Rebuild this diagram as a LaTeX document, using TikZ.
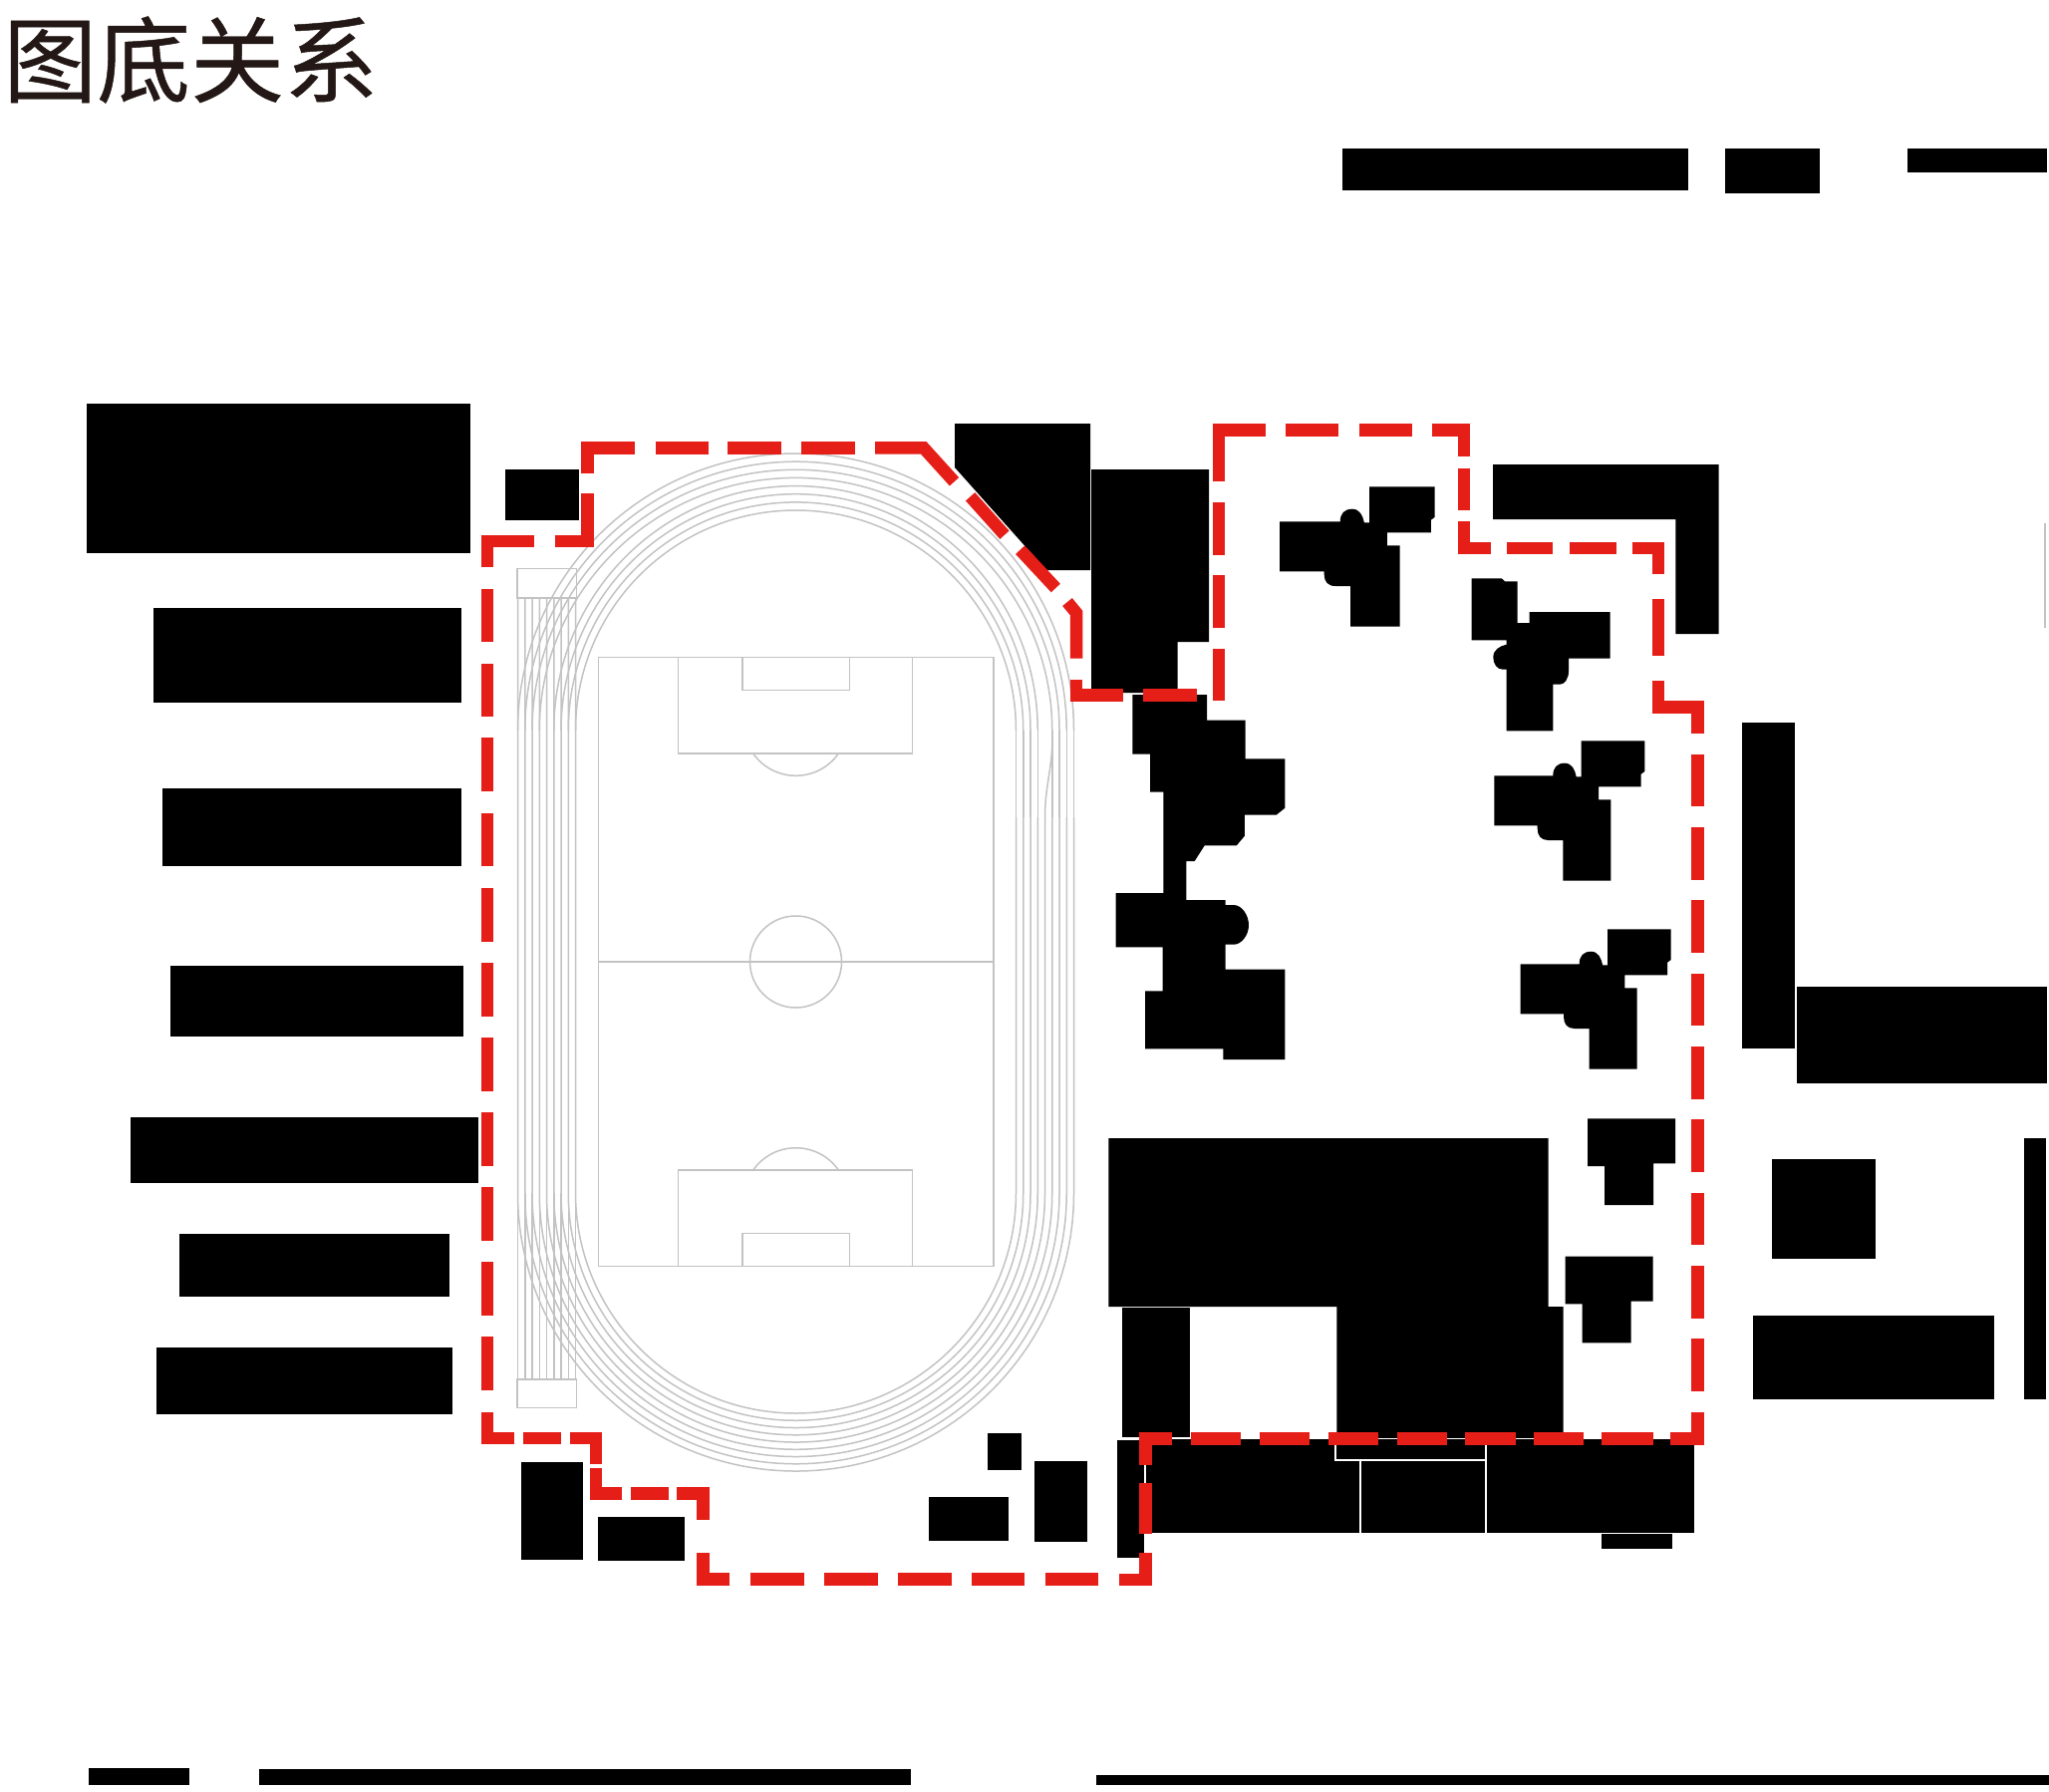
\documentclass[tikz,border=0pt]{standalone}
\usepackage{fontspec}
\newfontfamily\cjk[FakeBold=0.5]{Noto Sans CJK SC}
\definecolor{redline}{RGB}{230,30,24}
\definecolor{trackgray}{RGB}{195,195,195}
\definecolor{titleink}{RGB}{35,24,21}
\tikzset{
  bldg/.style={fill=black,draw=none},
  reddash/.style={draw=redline,line width=12.5pt,line cap=butt,line join=miter,miter limit=10},
  trackline/.style={draw=trackgray,line width=1.5pt},
  whitegap/.style={draw=white,line width=1.3pt},
}
\newcommand{\wingshape}[3]{%
  \fill[bldg,shift={(#1,#2)},xscale=#3]
    (0,0) -- (59,0) .. controls (59,-8) and (63,-12.6) .. (70.7,-12.6)
    .. controls (78,-12.6) and (81,-6) .. (82.4,1) -- (87.4,1) -- (87.4,-35) -- (151,-35)
    -- (151,-4.3) -- (147.4,-1.6) -- (147.4,11) -- (104.7,11) -- (104.7,24) -- (117,24)
    -- (117,105.4) -- (69,105.4) -- (69,64.7) -- (54,64.7)
    .. controls (47,64.7) and (43.4,60) .. (43.4,53.4) -- (43.4,50) -- (0,50) -- cycle;}
\newcommand{\teeshape}[2]{%
  \fill[bldg,shift={(#1,#2)}]
    (0,0) -- (88,0) -- (88,45) -- (66,45) -- (66,86.6) -- (17,86.6) -- (17,47.6) -- (0,47.6) -- cycle;}
\begin{document}
\begin{tikzpicture}[x=1pt,y=-1pt]
\useasboundingbox (0,0) rectangle (2056,1797);
\fill[white] (0,0) rectangle (2056,1797);
\node[anchor=west,inner sep=0pt,text=titleink] (title) at (3,60) {\cjk\fontsize{94}{94}\selectfont 图底关系};

% top and bottom bars
\fill[bldg] (1347,149) rectangle (1694,191);
\fill[bldg] (1731,149) rectangle (1826,194);
\fill[bldg] (1914,149) rectangle (2054,173);
\fill[bldg] (89,1774) rectangle (190,1791);
\fill[bldg] (260,1775) rectangle (914,1791);
\fill[bldg] (1100,1781) rectangle (2056,1791);

% left column
\fill[bldg] (87,405) rectangle (472,555);
\fill[bldg] (153.5,610) rectangle (463,705);
\fill[bldg] (163,791) rectangle (463,869);
\fill[bldg] (171,969) rectangle (465,1040);
\fill[bldg] (131,1121) rectangle (480,1187);
\fill[bldg] (180,1238) rectangle (451,1301);
\fill[bldg] (156.5,1352) rectangle (454,1419);
\fill[bldg] (507,471) rectangle (581,522);

% north blocks
\fill[bldg] (958,425) -- (1094,425) -- (1094,572) -- (1050,572) -- (958,469) -- cycle;
\fill[bldg] (1095,471) -- (1213,471) -- (1213,644) -- (1181.5,644) -- (1181.5,695) -- (1095,695) -- cycle;

% west complex
\fill[bldg] (1136.4,697) -- (1211,697) -- (1211,722.7) -- (1249.6,722.7) -- (1249.6,761.3)
  -- (1289.4,761.3) -- (1289.4,810.7) -- (1280.6,817.7) -- (1248.9,817.7) -- (1248.9,838.7)
  -- (1240.8,848.3) -- (1208.7,848.3) -- (1198.7,864) -- (1190.3,864) -- (1190.3,903)
  -- (1229.7,903) -- (1229.7,908) -- (1237.8,908)
  .. controls (1246,908) and (1253,918) .. (1253,928.3)
  .. controls (1253,938) and (1246,947.7) .. (1237.8,947.7)
  -- (1229.7,947.7) -- (1229.7,972.7) -- (1289.4,972.7) -- (1289.4,1063) -- (1227.4,1063)
  -- (1227.4,1052.3) -- (1149,1052.3) -- (1149,994.3) -- (1166.6,994.3) -- (1166.6,950.3)
  -- (1119.5,950.3) -- (1119.5,896) -- (1167.4,896) -- (1167.4,794.7) -- (1154,794.7)
  -- (1154,756.7) -- (1136.4,756.7) -- cycle;

% wing shapes
\wingshape{1284}{523.3}{1.03}
\wingshape{1499.3}{778.3}{1}
\wingshape{1525.7}{967.3}{1}
\fill[bldg] (1476.7,580.3) -- (1506.7,580.3) -- (1510,583.3) -- (1522.7,583.3) -- (1522.7,625)
  -- (1534.7,625) -- (1534.7,614) -- (1615.7,614) -- (1615.7,660.7) -- (1574,660.7) -- (1574,673.3)
  .. controls (1574,681) and (1570,686.7) .. (1565,686.7) -- (1558.3,686.7) -- (1558.3,733.3)
  -- (1511.7,733.3) -- (1511.7,671.7) -- (1508,671.7)
  .. controls (1502,671.7) and (1498.3,666) .. (1498.3,659.3)
  .. controls (1498.3,652) and (1505,648) .. (1511.7,646.7)
  -- (1511.7,642.3) -- (1476.7,642.3) -- cycle;

% L block and east side
\fill[bldg] (1498,466) -- (1724.7,466) -- (1724.7,636) -- (1681.3,636) -- (1681.3,521) -- (1498,521) -- cycle;
\fill[bldg] (1748,725) rectangle (1800.5,1052);
\fill[bldg] (1803,990) rectangle (2054,1087);
\fill[bldg] (1778,1163) rectangle (1882,1263);
\fill[bldg] (2031,1142) rectangle (2053,1404);
\fill[bldg] (1758.5,1320) rectangle (2001,1404);
\draw[trackline] (2052,525) -- (2052,630);

% tee shapes
\teeshape{1593}{1122.4}
\teeshape{1570.7}{1260.7}

% school blocks
\fill[bldg] (1112.4,1142) -- (1553.5,1142) -- (1553.5,1311) -- (1568.6,1311) -- (1568.6,1443)
  -- (1341.4,1443) -- (1341.4,1311) -- (1112.4,1311) -- cycle;
\fill[bldg] (1125.9,1312) rectangle (1194,1441.7);
\fill[bldg] (1120.8,1444.7) rectangle (1148,1562.7);
\fill[bldg] (1150,1444) rectangle (1699.5,1537.7);
\draw[whitegap] (1365,1465) -- (1365,1537.7);
\draw[whitegap] (1491,1446) -- (1491,1537.7);
\draw[whitegap] (1340,1444) -- (1340,1465) -- (1491,1465);
\draw[whitegap] (1120,1443.3) -- (1700,1443.3);
\fill[bldg] (1607,1539) rectangle (1678,1554.3);

% south-west small blocks
\fill[bldg] (523,1466.7) rectangle (585,1564.7);
\fill[bldg] (599.8,1522.3) rectangle (686.8,1566);
\fill[bldg] (990.5,1438) rectangle (1025.3,1475.3);
\fill[bldg] (932,1502) rectangle (1011.8,1546);
\fill[bldg] (1037.5,1465.7) rectangle (1091.3,1547.3);

% running track: nine lanes on the straights and the south bend
\foreach \i in {0,...,8}{
  \pgfmathsetmacro\rr{221+7.25*\i}
  \draw[trackline] ({798.5-\rr},600) -- ({798.5-\rr},1197) arc[start angle=180,end angle=360,radius=\rr pt]
     -- ({798.5+\rr},820);
  \draw[trackline] ({798.5-\rr},1197) -- ({798.5-\rr},1384);
}
% east straight into the north bend, where the lanes are eight
\foreach \xr in {221,228.25,235.5,242.75,257.25,264.5,271.75,279}{
  \draw[trackline] ({798.5+\xr},820) -- ({798.5+\xr},733);
}
\draw[trackline] (1048.5,820) .. controls (1048.5,790) and (1055.75,770) .. (1055.75,745);
% north bend
\foreach \xr/\yr in {221/221,228.25/229.1,235.5/237.3,242.75/245.4,257.25/253.6,264.5/261.7,271.75/269.8,279/278}{
  \draw[trackline] ({798.5-\xr},733) arc[start angle=180,end angle=0,x radius=\xr pt,y radius=\yr pt];
}
\draw[trackline] (519,570.7) rectangle (578.5,600);
\draw[trackline] (519,1384) rectangle (578.5,1412.3);

% football field
\draw[trackline] (600.4,659.3) rectangle (996.8,1270.7);
\draw[trackline] (600.4,965) -- (996.8,965);
\draw[trackline] (798.5,965) circle[radius=46pt];
\draw[trackline] (680.7,659.3) rectangle (915.5,756);
\draw[trackline] (745,659.3) rectangle (852.6,692.3);
\draw[trackline] (755.7,756) .. controls (776.7,785.7) and (820.4,785.7) .. (841.4,756);
\draw[trackline] (680.7,1174) rectangle (915.5,1270.7);
\draw[trackline] (745,1237.7) rectangle (852.6,1270.7);
\draw[trackline] (755.7,1174) .. controls (776.7,1144.3) and (820.4,1144.3) .. (841.4,1174);

% red dashed boundary
\draw[reddash] (489,569.3) -- (489,543) -- (536,543);
\draw[reddash] (557,543) -- (589.6,543) -- (589.6,495);
\draw[reddash] (589.6,475) -- (589.6,449.3) -- (636.5,449.3);
\foreach \a/\b in {657.5/711,730/784,804/857.5}{\draw[reddash] (\a,449.3) -- (\b,449.3);}
\draw[reddash] (878,449.3) -- (926.7,449.3) -- (957.5,483.3);
\draw[reddash] (973.6,498.3) -- (1008,536.7);
\draw[reddash] (1023.6,551.7) -- (1059.3,590);
\draw[reddash] (1071,604) -- (1080,615) -- (1080,660.7);
\draw[reddash] (1080,681.7) -- (1080,697.7) -- (1127,697.7);
\draw[reddash] (1147,697.7) -- (1200.6,697.7);
\foreach \a/\b in {703.3/651,630/577.3,556.7/504}{\draw[reddash] (1223,\a) -- (1223,\b);}
\draw[reddash] (1223,483.3) -- (1223,431.7) -- (1270,431.7);
\foreach \a/\b in {1290/1343.3,1364/1417.3}{\draw[reddash] (\a,431.7) -- (\b,431.7);}
\draw[reddash] (1437.3,431.7) -- (1469,431.7) -- (1469,458.3);
\draw[reddash] (1469,470) -- (1469,511.7);
\draw[reddash] (1469,523.3) -- (1469,550) -- (1496,550);
\foreach \a/\b in {1511.7/1558.3,1575/1622.3}{\draw[reddash] (\a,550) -- (\b,550);}
\draw[reddash] (1637.7,550) -- (1664,550) -- (1664,576);
\draw[reddash] (1664,601) -- (1664,658.3);
\draw[reddash] (1664,683.3) -- (1664,709.3) -- (1703.3,709.3) -- (1703.3,736);
\foreach \a/\b in {756.7/809.3,830/882.7,903.3/956,976.7/1029.3,1050/1102.7,1123.3/1176,1196.7/1249.3,1270/1322.7,1343.3/1396}{\draw[reddash] (1703.3,\a) -- (1703.3,\b);}
\draw[reddash] (1703.3,1416.7) -- (1703.3,1443.3) -- (1676.4,1443.3);
\foreach \a/\b in {1607.4/1658.7,1538.8/1589.3,1470/1521,1401.5/1452,1332.5/1383,1263.5/1314.4,1194.5/1245.4}{\draw[reddash] (\a,1443.3) -- (\b,1443.3);}
\draw[reddash] (1176,1443.3) -- (1149.4,1443.3) -- (1149.4,1470);
\draw[reddash] (1149.4,1488.3) -- (1149.4,1539.3);
\draw[reddash] (1149.4,1558.3) -- (1149.4,1585) -- (1123,1585);
\foreach \a/\b in {1102.3/1048.6,1028.4/975,954.5/900.7,881/827,806.6/752.8}{\draw[reddash] (\a,1584.6) -- (\b,1584.6);}
\draw[reddash] (732.3,1584.6) -- (705.4,1584.6) -- (705.4,1558.3);
\draw[reddash] (705.4,1525) -- (705.4,1498.3) -- (679,1498.3);
\draw[reddash] (671,1498.3) -- (633,1498.3);
\draw[reddash] (624.3,1498.3) -- (597.8,1498.3) -- (597.8,1472.7);
\draw[reddash] (597.8,1469.3) -- (597.8,1443) -- (571.7,1443);
\draw[reddash] (563,1443) -- (524.7,1443);
\draw[reddash] (516.4,1443) -- (489,1443) -- (489,1417.3);
\foreach \a/\b in {1395.3/1341.3,1320/1266,1245/1191.3,1170/1116.3,1095/1041.3,1020/966.3,945/891.3,869.3/815.7,794.3/740.3,719/665.7,644/590.7}{\draw[reddash] (489,\a) -- (489,\b);}
\end{tikzpicture}
\end{document}
